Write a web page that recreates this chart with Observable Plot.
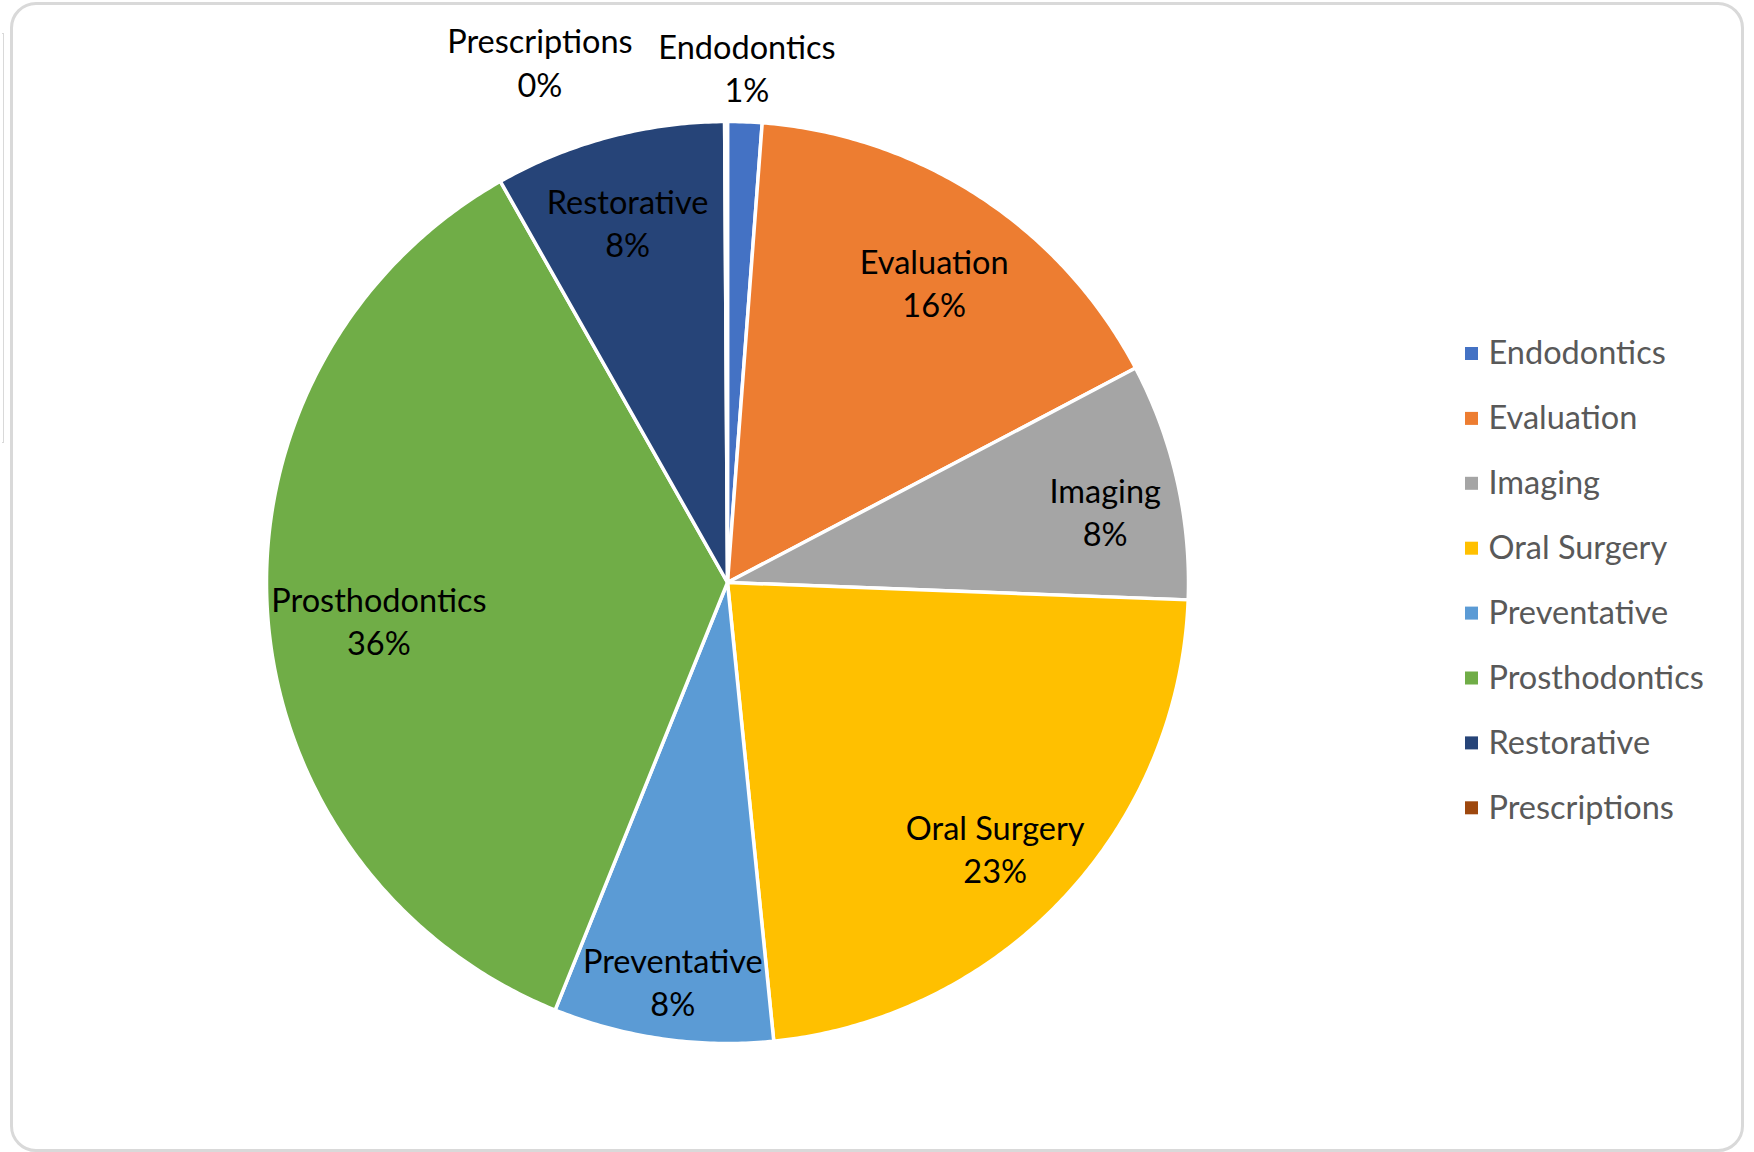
<!DOCTYPE html>
<html>
<head>
<meta charset="utf-8">
<script src="https://cdn.jsdelivr.net/npm/d3@7"></script>
<script src="https://cdn.jsdelivr.net/npm/@observablehq/plot@0.6"></script>
<style>
  html, body { margin: 0; padding: 0; background: #fff; }
  #wrap { position: relative; width: 1754px; height: 1152px; overflow: hidden; }
  #wrap svg { position: absolute; left: 0; top: 0; }
  #border { position: absolute; left: 10px; top: 2px; width: 1734px; height: 1150px;
            border: 3px solid #d9d9d9; border-radius: 26px; box-sizing: border-box; pointer-events: none; }
  #side { position: absolute; left: 2px; top: 33px; width: 2px; height: 410px;
          border: 1px solid #d9d9d9; border-left: none; box-sizing: border-box; pointer-events: none; }
</style>
</head>
<body>
<div id="wrap"><div id="side"></div><div id="border"></div></div>
<script>
// ---- data ----
const categories = ["Endodontics", "Evaluation", "Imaging", "Oral Surgery", "Preventative", "Prosthodontics", "Restorative", "Prescriptions"];
const values = [1.2, 16.1, 8.3, 22.8, 7.7, 35.7, 8.1, 0.1];
const colors = ["#4472C4", "#ED7D31", "#A5A5A5", "#FFC000", "#5B9BD5", "#70AD47", "#264478", "#9E480E"];

// ---- layout ----
const W = 1754, H = 1152;
const cx = 727, cy = 582, R = 461;
const font = "Lato, 'Open Sans', sans-serif";
const fs = 32.5;

const pie = d3.pie().sort(null).value(d => d.value)(categories.map((c, i) => ({name: c, value: values[i]})));
const total = d3.sum(values);

// polygon vertices for each slice
const slicePts = [];
pie.forEach(p => {
  const n = Math.max(2, Math.ceil((p.endAngle - p.startAngle) / (Math.PI / 360)));
  slicePts.push({name: p.data.name, px: cx, py: cy});
  for (let k = 0; k <= n; k++) {
    const a = p.startAngle + (p.endAngle - p.startAngle) * k / n;
    slicePts.push({name: p.data.name, px: cx + R * Math.sin(a), py: cy - R * Math.cos(a)});
  }
  slicePts.push({name: p.data.name, px: cx, py: cy});
});

// data labels: narrow slices push their label further out, tiny ones go outside
const labels = pie.map(p => {
  const mid = (p.startAngle + p.endAngle) / 2;
  const pct = p.data.value / total * 100;
  const outside = pct < 2;
  const rr = outside ? R * 1.12 : R * (0.865 - 0.003 * pct);
  return {
    name: p.data.name,
    pct, outside,
    text: p.data.name + "\n" + Math.round(pct) + "%",
    lx: cx + rr * Math.sin(mid),
    ly: cy - rr * Math.cos(mid)
  };
});

const color = {domain: categories, range: colors};
const txt = {x: "lx", y: "ly", text: "text", fontSize: fs, lineHeight: 1.33, fill: "#000", textAnchor: "middle"};

const chart = Plot.plot({
  width: W, height: H,
  margin: 0,
  x: {domain: [0, W], range: [0, W], axis: null},
  y: {domain: [0, H], range: [0, H], axis: null},
  color,
  style: {fontFamily: font, background: "transparent"},
  marks: [
    Plot.line(slicePts, {x: "px", y: "py", z: "name", fill: "name", stroke: "white", strokeWidth: 3.5, strokeLinejoin: "round", curve: "linear"}),
    Plot.text(labels.filter(d => !d.outside), {...txt, dy: 14}),
    Plot.text(labels.filter(d => d.outside && d.pct >= 0.5), txt),
    Plot.text(labels.filter(d => d.outside && d.pct < 0.5), {...txt, dx: -186, dy: -5}),
    // legend
    Plot.rect(categories, {x1: () => 1465, x2: () => 1478, y1: (d, i) => 347 + i * 64.9, y2: (d, i) => 360 + i * 64.9, fill: d => d}),
    Plot.text(categories, {x: () => 1488, y: (d, i) => 353.5 + i * 64.9, text: d => d, fontSize: fs, fill: "#595959", textAnchor: "start"})
  ]
});

document.getElementById("wrap").prepend(chart);
</script>
</body>
</html>
